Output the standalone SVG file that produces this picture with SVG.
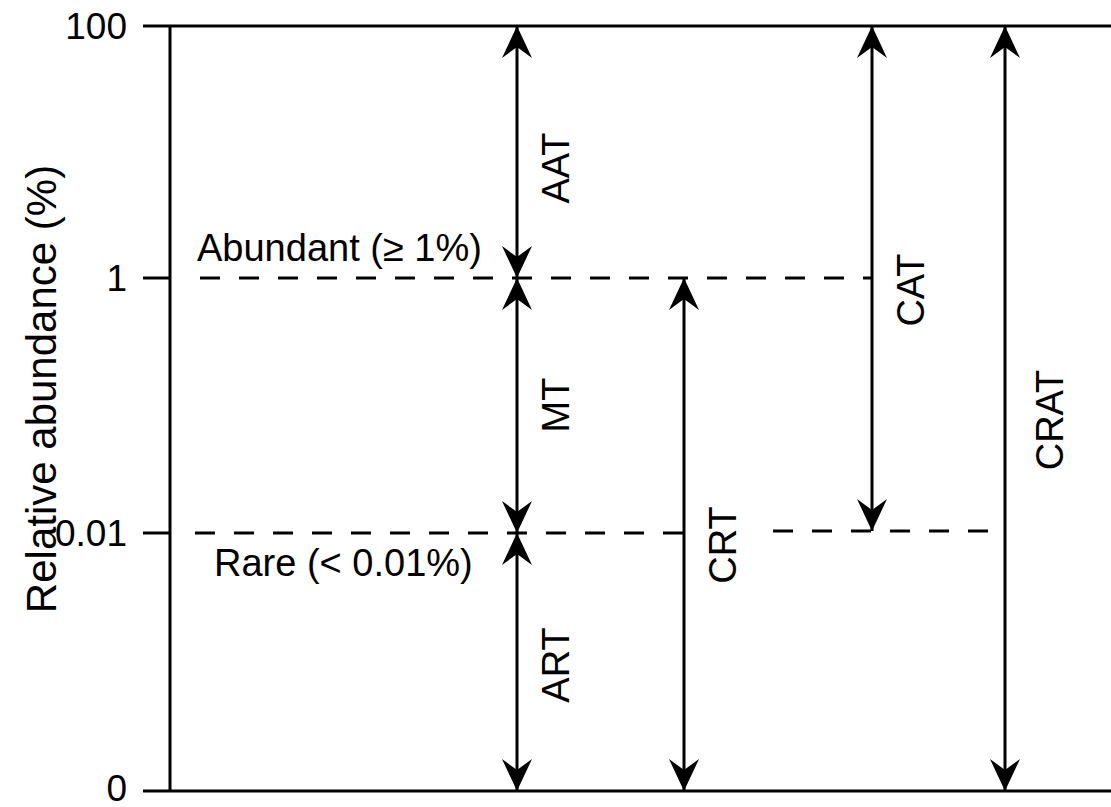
<svg xmlns="http://www.w3.org/2000/svg" width="1111" height="807" viewBox="0 0 1111 807">
<style>
.ax{stroke:#000;stroke-width:3;fill:none}
.dash{stroke:#000;stroke-width:3;stroke-dasharray:20 19;fill:none}
.arr{stroke:#000;stroke-width:3;fill:none;marker-start:url(#ah);marker-end:url(#ah)}
text{font-family:"Liberation Sans",Arial,sans-serif;font-size:38px;fill:#000}
.tick{font-size:37px;text-anchor:end}
.rot{text-anchor:middle}
</style>
<defs>
<marker id="ah" markerUnits="userSpaceOnUse" viewBox="-34 -17 36 34" refX="0" refY="0" markerWidth="36" markerHeight="34" orient="auto-start-reverse">
<path d="M0,0 Q-17,-8 -32,-15 L-21,0 L-32,15 Q-17,8 0,0 Z" fill="#000"/>
</marker>
</defs>
<g id="axes">
<line class="ax" x1="170" y1="26" x2="170" y2="791"/>
<line class="ax" x1="143" y1="26" x2="1111" y2="26"/>
<line class="ax" x1="143" y1="791" x2="1111" y2="791"/>
<line class="ax" x1="143" y1="278" x2="170" y2="278"/>
<line class="ax" x1="143" y1="533" x2="170" y2="533"/>
<text class="tick" x="127" y="39">100</text>
<text class="tick" x="127" y="291">1</text>
<text class="tick" x="127" y="546">0.01</text>
<text class="tick" x="127" y="801">0</text>
<text class="rot" transform="translate(56,389) rotate(-90)" style="font-size:42px">Relative abundance (%)</text>
</g>
<g id="thresholds">
<line class="dash" x1="200" y1="278" x2="871" y2="278"/>
<line class="dash" x1="195" y1="533" x2="683" y2="533"/>
<line class="dash" x1="773" y1="531" x2="1005" y2="531"/>
<text x="197" y="261">Abundant (≥ 1%)</text>
<text x="214" y="576">Rare (&lt; 0.01%)</text>
</g>
<g id="connectors">
<line class="arr" x1="517" y1="26" x2="517" y2="278"/>
<line class="arr" x1="517" y1="278" x2="517" y2="533"/>
<line class="arr" x1="517" y1="533" x2="517" y2="791"/>
<line class="arr" x1="684" y1="278" x2="684" y2="791"/>
<line class="arr" x1="872" y1="26" x2="872" y2="531"/>
<line class="arr" x1="1005" y1="26" x2="1005" y2="791"/>
</g>
<g id="labels">
<text class="rot" transform="translate(569,168) rotate(-90)">AAT</text>
<text class="rot" transform="translate(569,405) rotate(-90)">MT</text>
<text class="rot" transform="translate(569,665) rotate(-90)">ART</text>
<text class="rot" transform="translate(736,545) rotate(-90)">CRT</text>
<text class="rot" transform="translate(924,290) rotate(-90)">CAT</text>
<text class="rot" transform="translate(1063,420) rotate(-90)">CRAT</text>
</g>
</svg>
